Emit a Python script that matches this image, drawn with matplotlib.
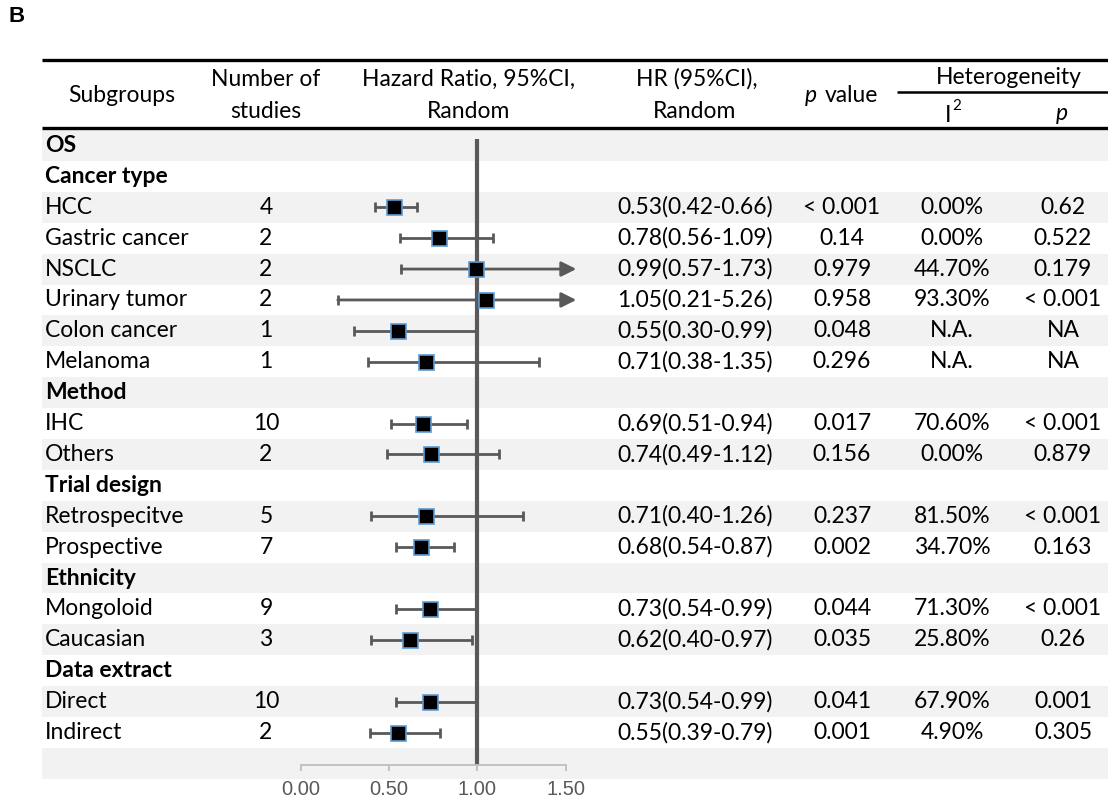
import matplotlib
matplotlib.use("Agg")
import matplotlib.pyplot as plt
from matplotlib.patches import Rectangle

# ---------------- data ----------------
labels = ["OS", "Cancer type", "HCC", "Gastric cancer", "NSCLC", "Urinary tumor",
          "Colon cancer", "Melanoma", "Method", "IHC", "Others", "Trial design",
          "Retrospecitve", "Prospective", "Ethnicity", "Mongoloid", "Caucasian",
          "Data extract", "Direct", "Indirect"]
bold_rows = ["OS", "Cancer type", "Method", "Trial design", "Ethnicity", "Data extract"]
n_studies = ["", "", "4", "2", "2", "2", "1", "1", "", "10", "2", "", "5", "7", "",
             "9", "3", "", "10", "2"]
hr = [None, None, 0.53, 0.78, 0.99, 1.05, 0.55, 0.71, None, 0.69, 0.74, None,
      0.71, 0.68, None, 0.73, 0.62, None, 0.73, 0.55]
ci_low = [None, None, 0.42, 0.56, 0.57, 0.21, 0.30, 0.38, None, 0.51, 0.49, None,
          0.40, 0.54, None, 0.54, 0.40, None, 0.54, 0.39]
ci_high = [None, None, 0.66, 1.09, 1.73, 5.26, 0.99, 1.35, None, 0.94, 1.12, None,
           1.26, 0.87, None, 0.99, 0.97, None, 0.99, 0.79]
p_values = ["", "", "< 0.001", "0.14", "0.979", "0.958", "0.048", "0.296", "",
            "0.017", "0.156", "", "0.237", "0.002", "", "0.044", "0.035", "",
            "0.041", "0.001"]
i2_values = ["", "", "0.00%", "0.00%", "44.70%", "93.30%", "N.A.", "N.A.", "",
             "70.60%", "0.00%", "", "81.50%", "34.70%", "", "71.30%", "25.80%", "",
             "67.90%", "4.90%"]
het_p = ["", "", "0.62", "0.522", "0.179", "< 0.001", "NA", "NA", "", "< 0.001",
         "0.879", "", "< 0.001", "0.163", "", "< 0.001", "0.26", "", "0.001", "0.305"]
x_ticks = [0.0, 0.5, 1.0, 1.5]
x_ticklabels = ["0.00", "0.50", "1.00", "1.50"]

# ---------------- layout / style ----------------
W, H = 1108, 807
FONT = "Lato"
FS = 16.5
TOP_ROW = 130.0
ROW_H = 30.9
N_ROWS = len(labels) + 1  # trailing blank (axis) row
GRAY = "#f2f2f2"
DARK = "#595959"
X_CUT = 1.56  # where truncated CIs end in arrows

fig = plt.figure(figsize=(W / 100, H / 100), dpi=100)
tab = fig.add_axes([0, 0, 1, 1])
tab.set_xlim(0, W)
tab.set_ylim(H, 0)
tab.axis("off")

def row_y(i):
    return TOP_ROW + (i + 0.5) * ROW_H

# stripes
for i in range(N_ROWS):
    if i % 2 == 0:
        tab.add_patch(Rectangle((42, TOP_ROW + i * ROW_H), W - 42, ROW_H,
                                facecolor=GRAY, edgecolor="none", zorder=0))

# header rules
tab.plot([42, W], [60, 60], color="black", lw=2.4, solid_capstyle="butt")
tab.plot([42, W], [128, 128], color="black", lw=2.4, solid_capstyle="butt")
tab.plot([897, W], [92, 92], color="black", lw=1.8, solid_capstyle="butt")

hk = dict(fontsize=FS, family=FONT, ha="center", va="center", color="black")
L1, L2 = 79, 112
tab.text(122, 96, "Subgroups", **hk)
tab.text(266, L1, "Number of", **hk)
tab.text(266, L2, "studies", **hk)
tab.text(469, L1, "Hazard Ratio, 95%CI,", **hk)
tab.text(469, L2, "Random", **hk)
tab.text(697, L1, "HR (95%CI),", **hk)
tab.text(695, L2, "Random", **hk)
tab.text(817, 96, "p", style="italic", **{**hk, "ha": "right"})
tab.text(825, 96, "value", **{**hk, "ha": "left"})
tab.text(1009, 77, "Heterogeneity", **hk)
tab.text(948, 115, "I", **hk)
tab.text(952, 106, "2", fontsize=11, family=FONT, ha="left", va="center")
tab.text(1062, 113, "p", style="italic", **hk)

tab.text(17, 17, "B", fontsize=16, family="Liberation Sans", weight="bold",
         ha="center", va="center")

for i, lab in enumerate(labels):
    y = row_y(i)
    tab.text(45, y, lab, fontsize=FS, family=FONT, va="center", ha="left",
             weight="bold" if lab in bold_rows else "normal")
    if n_studies[i]:
        tab.text(266, y, n_studies[i], **hk)
    if hr[i] is not None:
        tab.text(695, y, f"{hr[i]:.2f}({ci_low[i]:.2f}-{ci_high[i]:.2f})", **hk)
    if p_values[i]:
        tab.text(842, y, p_values[i], **hk)
    if i2_values[i]:
        tab.text(952, y, i2_values[i], **hk)
    if het_p[i]:
        tab.text(1063, y, het_p[i], **hk)

# ---------------- forest axes ----------------
x0_px, x15_px = 300.7, 565.7
ax = fig.add_axes([x0_px / W, 1 - (TOP_ROW + N_ROWS * ROW_H) / H,
                   (x15_px - x0_px) / W, N_ROWS * ROW_H / H])
ax.set_xlim(0, 1.5)
ax.set_ylim(N_ROWS, 0)
ax.patch.set_alpha(0)
for s in ["top", "left", "right"]:
    ax.spines[s].set_visible(False)
axis_y = N_ROWS - 0.46
ax.spines["bottom"].set_position(("data", axis_y))
ax.spines["bottom"].set_color("#bfbfbf")
ax.spines["bottom"].set_linewidth(1.3)
ax.set_yticks([])
ax.set_xticks(x_ticks)
ax.set_xticklabels(x_ticklabels, family="Liberation Sans", fontsize=14.5, color=DARK)
ax.tick_params(axis="x", length=4, width=1.3, color="#bfbfbf", pad=7, direction="out")

ax.vlines(1.0, 0.3, axis_y, color=DARK, lw=3.0, zorder=2)

for i in range(len(labels)):
    if hr[i] is None:
        continue
    y = i + 0.5
    lo, hi = ci_low[i], ci_high[i]
    if hi > X_CUT:
        ax.annotate("", xy=(X_CUT, y), xytext=(lo, y), annotation_clip=False,
                    arrowprops=dict(arrowstyle="-|>,head_length=0.9,head_width=0.45",
                                    color=DARK, lw=2.0, shrinkA=0, shrinkB=0), zorder=3)
        ax.plot([lo], [y], marker="|", ms=7.5, mew=2.0, color=DARK, zorder=3)
    else:
        ax.hlines(y, lo, hi, color=DARK, lw=2.0, zorder=3)
        ax.plot([lo, hi], [y, y], ls="none", marker="|", ms=7.5, mew=2.0,
                color=DARK, zorder=3)
    ax.plot([hr[i]], [y], marker="s", ms=10.8, mfc="black", mec="#5b9bd5",
            mew=1.2, zorder=4, clip_on=False)

fig.savefig("out.png", dpi=100)
